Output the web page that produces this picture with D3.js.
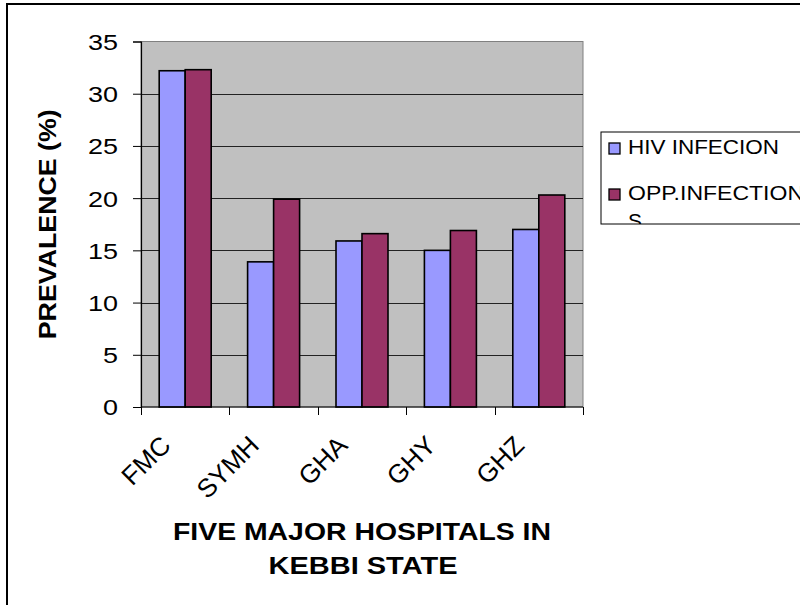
<!DOCTYPE html>
<html lang="en">
<head>
<meta charset="utf-8">
<title>Prevalence in five major hospitals</title>
<script src="https://cdn.jsdelivr.net/npm/d3@7"></script>
<style>
  body { margin: 0; background: #fff; }
  text { font-family: Arial, "Liberation Sans", sans-serif; fill: #000; }
</style>
</head>
<body>
<script>
// data
var hospitals = ["FMC", "SYMH", "GHA", "GHY", "GHZ"];
var seriesNames = ["HIV INFECION", "OPP.INFECTIONS"];
var hivValues = [32.2, 13.9, 15.9, 15.0, 17.0];
var oppValues = [32.3, 19.9, 16.6, 16.9, 20.3];
var yTicks = [0, 5, 10, 15, 20, 25, 30, 35];
var colors = ["#9999FF", "#993366"];

var W = 800, H = 605;
var plot = {left: 141, right: 583, top: 41.5, bottom: 407};

var svg = d3.select("body").append("svg")
  .attr("width", W).attr("height", H);

// outer chart frame (runs off the right and bottom edge)
svg.append("rect")
  .attr("x", 7).attr("y", 4)
  .attr("width", 900).attr("height", 700)
  .style("fill", "none").style("stroke", "#000").style("stroke-width", 2);

var x0 = d3.scaleBand().domain(hospitals).range([plot.left, plot.right]).padding(0);
var x1 = d3.scaleBand().domain(seriesNames).range([0, x0.bandwidth()]).paddingInner(0).paddingOuter(0.7);
var y = d3.scaleLinear().domain([0, 35]).range([plot.bottom, plot.top]);

// plot area
svg.append("rect")
  .attr("x", plot.left).attr("y", plot.top)
  .attr("width", plot.right - plot.left).attr("height", plot.bottom - plot.top)
  .style("fill", "#C0C0C0").style("stroke", "#808080").style("stroke-width", 1);

// gridlines
svg.append("g").selectAll("line")
  .data(yTicks.filter(function(d) { return d > 0 && d < 35; }))
  .enter().append("line")
  .attr("x1", plot.left).attr("x2", plot.right)
  .attr("y1", function(d) { return Math.round(y(d)) + 0.5; })
  .attr("y2", function(d) { return Math.round(y(d)) + 0.5; })
  .style("stroke", "#222").style("stroke-width", 1);

// bars
var rows = hospitals.map(function(h, i) {
  return {name: h, values: [hivValues[i], oppValues[i]]};
});

svg.append("g").selectAll("g")
  .data(rows)
  .enter().append("g")
  .attr("transform", function(d) { return "translate(" + x0(d.name) + ",0)"; })
  .selectAll("rect")
  .data(function(d) { return d.values.map(function(v, j) { return {s: seriesNames[j], v: v, j: j}; }); })
  .enter().append("rect")
  .attr("x", function(d) { return x1(d.s); })
  .attr("width", x1.bandwidth())
  .attr("y", function(d) { return y(d.v); })
  .attr("height", function(d) { return y(0) - y(d.v); })
  .style("fill", function(d) { return colors[d.j]; })
  .style("stroke", "#000").style("stroke-width", 1.6);

// y axis
var yAxis = d3.axisLeft(y).tickValues(yTicks).tickSize(8).tickPadding(15);
var gy = svg.append("g")
  .attr("transform", "translate(" + plot.left + ",0)")
  .call(yAxis);
gy.select(".domain").style("stroke", "#000").style("stroke-width", 1.2);
gy.selectAll(".tick line").style("stroke", "#000");
gy.selectAll("text")
  .style("font-size", "22px")
  .attr("dy", "0.36em")
  .attr("textLength", function(d) { return String(d).length * 15; })
  .attr("lengthAdjust", "spacingAndGlyphs");

// x axis: ticks on category boundaries
var edges = hospitals.map(function(h) { return x0(h); }).concat([x0(hospitals[4]) + x0.bandwidth()]);
var gx = svg.append("g");
gx.append("line")
  .attr("x1", plot.left).attr("x2", plot.right)
  .attr("y1", plot.bottom).attr("y2", plot.bottom)
  .style("stroke", "#000").style("stroke-width", 1.2);
gx.selectAll(".edge")
  .data(edges)
  .enter().append("line")
  .attr("class", "edge")
  .attr("x1", function(d) { return Math.round(d) + 0.5; })
  .attr("x2", function(d) { return Math.round(d) + 0.5; })
  .attr("y1", plot.bottom).attr("y2", plot.bottom + 8)
  .style("stroke", "#000");

gx.selectAll(".cat")
  .data(hospitals)
  .enter().append("text")
  .attr("class", "cat")
  .attr("transform", function(d) {
    return "translate(" + (x0(d) + x0.bandwidth() / 2 - 13) + "," + (plot.bottom + 40) + ") rotate(-45)";
  })
  .style("text-anchor", "end")
  .style("font-size", "26px")
  .text(function(d) { return d; });

// axis titles
svg.append("text")
  .attr("transform", "translate(56," + ((plot.top + plot.bottom) / 2) + ") rotate(-90)")
  .style("text-anchor", "middle")
  .style("font-size", "23px").style("font-weight", "bold")
  .attr("textLength", 230).attr("lengthAdjust", "spacingAndGlyphs")
  .text("PREVALENCE (%)");

var cx = (plot.left + plot.right) / 2;
svg.append("text")
  .attr("x", cx).attr("y", 540)
  .style("text-anchor", "middle")
  .style("font-size", "24px").style("font-weight", "bold")
  .attr("textLength", 378).attr("lengthAdjust", "spacingAndGlyphs")
  .text("FIVE MAJOR HOSPITALS IN");
svg.append("text")
  .attr("x", cx + 1).attr("y", 574)
  .style("text-anchor", "middle")
  .style("font-size", "24px").style("font-weight", "bold")
  .attr("textLength", 189).attr("lengthAdjust", "spacingAndGlyphs")
  .text("KEBBI STATE");

// legend (box runs past the right edge, last line clipped)
var legend = svg.append("g").attr("transform", "translate(601,132)");
svg.append("clipPath").attr("id", "legclip")
  .append("rect").attr("x", 0).attr("y", 0).attr("width", 300).attr("height", 92);
legend.append("rect")
  .attr("x", 0).attr("y", 0).attr("width", 300).attr("height", 92)
  .style("fill", "#fff").style("stroke", "#000").style("stroke-width", 1);

var items = legend.append("g").attr("clip-path", "url(#legclip)");
var legRows = [
  {lines: ["HIV INFECION"], widths: [151], y: 11},
  {lines: ["OPP.INFECTION", "S"], widths: [176, 14], y: 57}
];
legRows.forEach(function(r, i) {
  items.append("rect")
    .attr("x", 8).attr("y", r.y).attr("width", 11).attr("height", 11)
    .style("fill", colors[i]).style("stroke", "#000").style("stroke-width", 1.3);
  r.lines.forEach(function(line, k) {
    items.append("text")
      .attr("x", 27).attr("y", r.y + 11 + k * 28)
      .style("font-size", "21px")
      .attr("textLength", r.widths[k]).attr("lengthAdjust", "spacingAndGlyphs")
      .text(line);
  });
});
</script>
</body>
</html>
